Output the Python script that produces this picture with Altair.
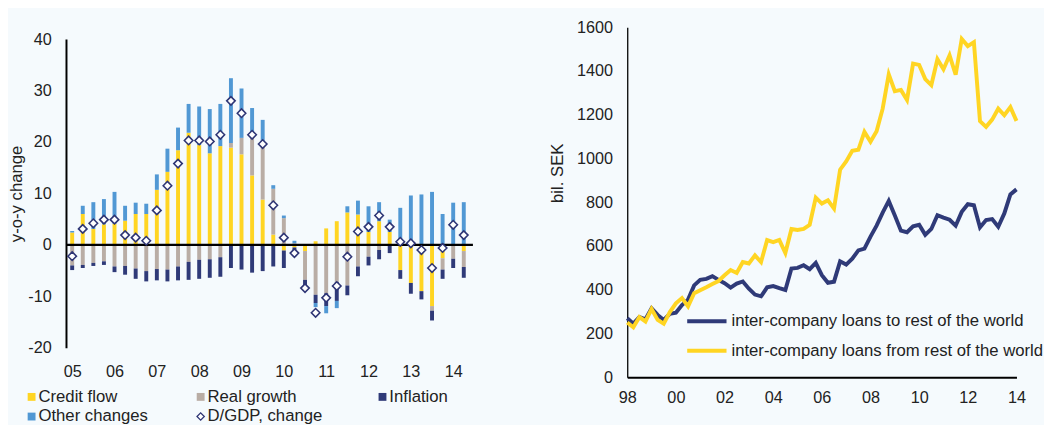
import altair as alt
import pandas as pd

# ---------------- Left chart data (quarterly 2005Q1 - 2014Q2) ----------------
years_left = list(range(2005, 2015))
quarters_left = [y + q * 0.25 for y in years_left for q in range(4)][:38]

credit_flow = [2.4, 6.0, 3.1, 4.0, 4.1, 4.7, 6.0, 6.0, 10.7, 14.2, 18.4, 21.8, 19.4,
               17.8, 19.2, 18.9, 17.6, 13.5, 8.8, 2.0, -1.1, -0.5, -1.2, 0.7, 3.2,
               4.6, 6.3, 5.9, 2.5, 4.6, 2.5, -4.9, -7.4, -9.0, -11.9, -2.6, 0.0, -1.2]
real_growth = [-4.0, -3.9, -3.5, -3.2, -4.2, -4.1, -4.6, -5.1, -4.7, -4.8, -4.2, -3.3,
               -2.9, -2.8, -2.4, 0.9, 3.2, 7.5, 10.3, 8.9, 5.2, 0.3, -5.6, -9.7, -9.4,
               -7.2, -7.9, -4.2, -2.3, -1.0, 0.0, 0.0, 0.0, 0.0, -0.9, -2.2, -2.7, -3.1]
inflation = [-0.9, -0.6, -0.6, -0.7, -1.1, -1.7, -2.0, -2.0, -2.2, -2.3, -2.7, -3.5,
             -3.7, -3.6, -3.8, -4.5, -4.8, -5.4, -5.1, -4.2, -3.4, -1.7, -1.4, -1.6,
             -2.5, -3.7, -1.9, -1.9, -1.7, -1.8, -1.6, -1.7, -2.1, -1.6, -1.9, -1.8,
             -1.8, -2.1]
other_changes = [0.3, 1.6, 5.2, 4.9, 6.2, 2.9, 2.2, 2.0, 3.0, 4.5, 4.4, 5.6, 7.5, 8.6,
                 8.2, 12.6, 9.6, 5.6, 5.2, 0.7, 0.5, 0.5, 0.0, -0.8, -1.4, -1.4, 1.2,
                 2.7, 5.0, 3.7, 2.4, 7.2, 9.6, 9.8, 10.3, 6.0, 8.2, 8.3]
dgdp_change = [-2.2, 3.1, 4.2, 4.9, 4.9, 1.9, 1.4, 0.8, 6.7, 11.5, 15.8, 20.3, 20.3,
               20.1, 21.4, 28.0, 25.6, 21.4, 19.6, 7.7, 1.4, -1.6, -8.4, -13.2, -10.3,
               -8.0, -2.3, 2.6, 3.5, 5.7, 3.5, 0.6, 0.3, -1.0, -4.5, -0.6, 3.9, 1.9]

series_names = ["Credit flow", "Real growth", "Inflation", "Other changes"]
series_colors = ["#FFD523", "#B9ADA5", "#2F3A78", "#5198D4"]
legend_labels = ["Credit flow", "Real growth", "Inflation", "Other changes", "D/GDP, change"]

# ---------------- Right chart data (quarterly 1998Q1 - 2014Q1) ----------------
quarters_right = [1998 + i * 0.25 for i in range(65)]
loans_to = [270, 245, 275, 265, 315, 285, 262, 290, 295, 330, 355, 420, 445, 450, 462,
            445, 430, 410, 428, 438, 405, 378, 370, 411, 417, 407, 399, 497, 500, 512,
            494, 523, 467, 432, 437, 530, 515, 542, 580, 588, 643, 693, 753, 806, 740,
            670, 663, 690, 697, 651, 678, 741, 730, 720, 693, 756, 791, 786, 685, 719,
            723, 688, 749, 836, 859]
loans_from = [250, 228, 275, 255, 312, 262, 245, 298, 338, 362, 324, 384, 398, 411, 426,
              440, 466, 490, 477, 527, 520, 557, 527, 627, 618, 628, 568, 678, 673, 678,
              697, 821, 794, 809, 771, 949, 987, 1035, 1040, 1122, 1077, 1125, 1228, 1385,
              1308, 1314, 1268, 1434, 1428, 1363, 1336, 1454, 1408, 1472, 1383, 1547, 1514,
              1532, 1171, 1145, 1178, 1228, 1198, 1235, 1172]
right_names = ["inter-company loans to rest of the world",
               "inter-company loans from rest of the world"]
right_colors = ["#2F3A78", "#FFD523"]

FONT = "Liberation Sans"
TXT = "#222222"
NAVY = "#2E3575"
FS = 16.5
TFS = 17

# ---------------- Build tables ----------------
rows = []
for k, (name, vals) in enumerate(zip(series_names, [credit_flow, real_growth, inflation, other_changes])):
    for t, v in zip(quarters_left, vals):
        rows.append({"t": t, "v": v, "series": name, "k": k})
bars_df = pd.DataFrame(rows)
dgdp_df = pd.DataFrame({"t": quarters_left, "v": dgdp_change})
zero_df = pd.DataFrame({"v": [0]})

LH = 326  # left view height; the value axis occupies its lower part
xl_scale = alt.Scale(domain=[2004.97, 2014.35], nice=False, zero=False)
yl_scale = alt.Scale(domain=[-20, 40], range=[LH, 12], nice=False)

bars = alt.Chart(bars_df).mark_bar(size=4).encode(
    x=alt.X("t:Q", scale=xl_scale,
            axis=alt.Axis(values=years_left, labelExpr="substring(toString(datum.value), 2, 4)",
                          domain=False, ticks=False, grid=False, labelPadding=16,
                          labelFontSize=FS, labelColor=TXT, labelFont=FONT, title=None,
                          labelFlush=False)),
    y=alt.Y("v:Q", stack="zero", scale=yl_scale,
            axis=alt.Axis(values=[-20, -10, 0, 10, 20, 30, 40], labelExpr="toString(datum.value)",
                          grid=False, ticks=False,
                          domainColor="black", domainWidth=2, labelPadding=15,
                          labelFontSize=FS, labelColor=TXT, labelFont=FONT,
                          title="y-o-y change", titleFontSize=TFS, titleFontWeight="normal",
                          titleColor=TXT, titleFont=FONT, titlePadding=2)),
    color=alt.Color("series:N", scale=alt.Scale(domain=series_names, range=series_colors), legend=None),
    order=alt.Order("k:Q"),
)
zero_line = alt.Chart(zero_df).mark_rule(color="black", strokeWidth=2.2).encode(
    y=alt.Y("v:Q", scale=yl_scale))
diamonds = alt.Chart(dgdp_df).mark_point(shape="diamond", filled=True, fill="white", stroke=NAVY,
                                         strokeWidth=1.6, size=75, opacity=1).encode(
    x=alt.X("t:Q", scale=xl_scale), y=alt.Y("v:Q", scale=yl_scale))

plot_layer = alt.layer(bars, zero_line, diamonds)

# legend built from the labels
leg_df = pd.DataFrame({"label": legend_labels,
                       "col": [i % 3 for i in range(len(legend_labels))],
                       "row": [i // 3 for i in range(len(legend_labels))]})
lx = alt.X("col:Q", scale=alt.Scale(domain=[0, 1, 2], range=[-35, 137, 322], nice=False, zero=False), axis=None)
ly = alt.Y("row:Q", scale=alt.Scale(domain=[0, 1], range=[376, 396], nice=False, zero=False), axis=None)
leg_sq = alt.Chart(leg_df).transform_filter(alt.FieldOneOfPredicate(field="label", oneOf=series_names)).mark_square(
    size=64, opacity=1).encode(x=lx, y=ly, color=alt.Color("label:N", scale=alt.Scale(domain=series_names, range=series_colors), legend=None))
leg_dia = alt.Chart(leg_df).transform_filter(alt.datum.label == "D/GDP, change").mark_point(
    shape="diamond", filled=True, fill="white", stroke=NAVY, strokeWidth=1.3, size=55, opacity=1).encode(x=lx, y=ly)
leg_txt = alt.Chart(leg_df).mark_text(align="left", baseline="middle", dx=7, fontSize=TFS,
                                      font=FONT, color=TXT).encode(x=lx, y=ly, text="label:N")
legend_layer = alt.layer(leg_sq, leg_dia, leg_txt)

left = alt.layer(plot_layer, legend_layer).resolve_scale(x="independent", y="independent").properties(
    width=414, height=LH)

# ---------------- Right chart ----------------
rrows = []
for name, vals in zip(right_names, [loans_to, loans_from]):
    for t, v in zip(quarters_right, vals):
        rrows.append({"t": t, "v": v, "series": name})
right_df = pd.DataFrame(rrows)

right = alt.Chart(right_df).mark_line(strokeWidth=4, strokeJoin="miter").encode(
    x=alt.X("t:Q", scale=alt.Scale(domain=[1998, 2014], nice=False, zero=False),
            axis=alt.Axis(values=list(range(1998, 2015, 2)),
                          labelExpr="substring(toString(datum.value), 2, 4)",
                          ticks=False, grid=False, domainColor="black", domainWidth=2,
                          labelPadding=13, labelFontSize=FS, labelColor=TXT, labelFont=FONT,
                          title=None, labelFlush=False)),
    y=alt.Y("v:Q", scale=alt.Scale(domain=[0, 1600], nice=False),
            axis=alt.Axis(values=list(range(0, 1601, 200)), labelExpr="toString(datum.value)",
                          ticks=False, grid=False,
                          domainColor="black", domainWidth=1.3, labelPadding=15,
                          labelFontSize=FS, labelColor=TXT, labelFont=FONT,
                          title="bil. SEK", titleFontSize=TFS, titleFontWeight="normal",
                          titleColor=TXT, titleFont=FONT, titlePadding=10, titleY=148)),
    color=alt.Color("series:N", sort=right_names,
                    scale=alt.Scale(domain=right_names, range=right_colors),
                    legend=alt.Legend(orient="none", legendX=59, legendY=277, title=None,
                                      symbolType="stroke", symbolSize=1600, symbolStrokeWidth=4,
                                      labelFontSize=TFS, labelFont=FONT, labelColor=TXT,
                                      rowPadding=-11, labelOffset=3, padding=0, labelLimit=400)),
).properties(width=396, height=356)

chart = alt.hconcat(left, right, spacing=75).resolve_scale(color="independent").properties(
    padding={"left": 0, "top": 8, "right": 0, "bottom": 0},
    background="#F5FAFD",
).configure_view(stroke=None)

chart.save("out.html", embed_options={"renderer": "svg", "actions": False})
